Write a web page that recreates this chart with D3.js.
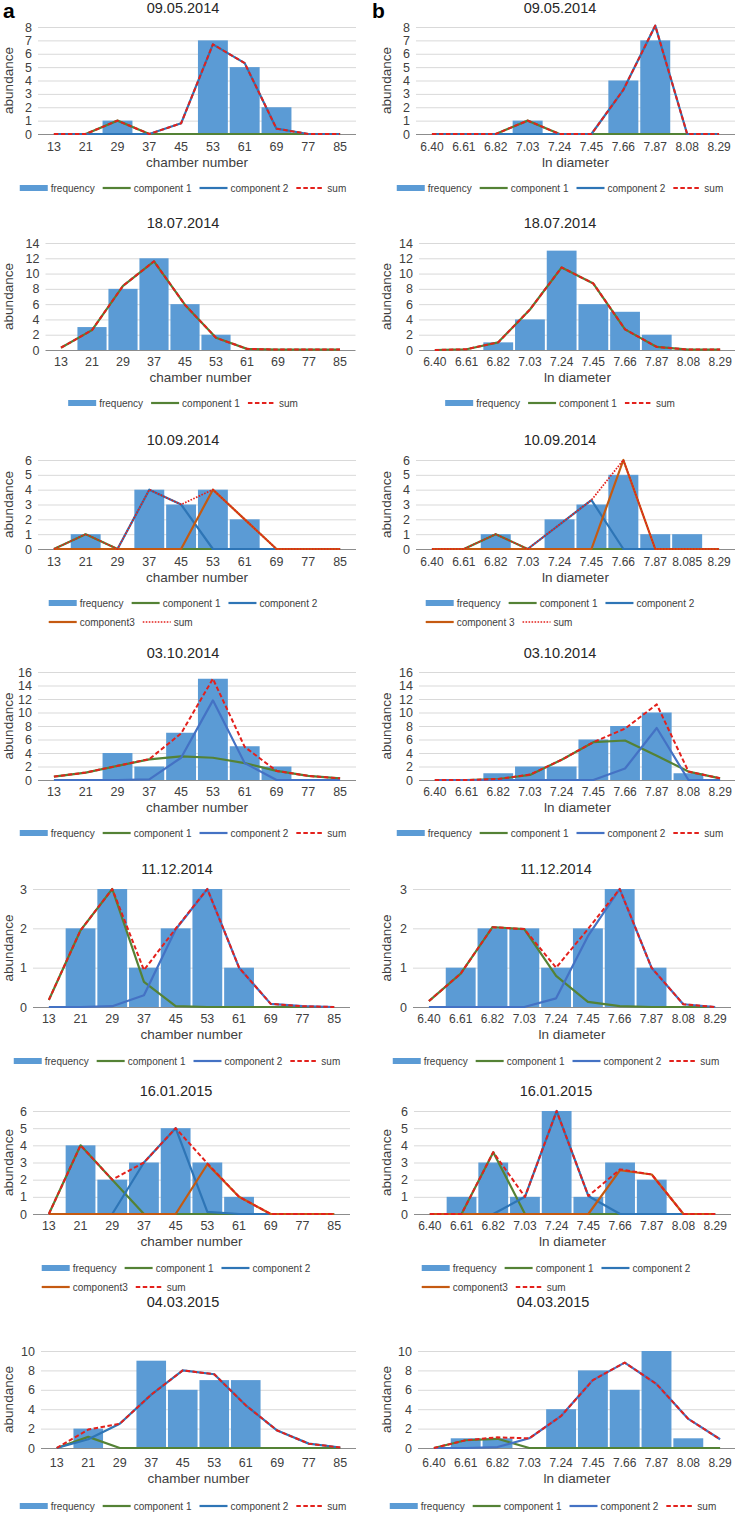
<!DOCTYPE html>
<html><head><meta charset="utf-8">
<script src="https://cdn.jsdelivr.net/npm/d3@7"></script>
<style>body{margin:0;background:#fff} svg{display:block} text{font-family:"Liberation Sans",Arial,sans-serif}</style>
</head><body><svg id="c" width="735" height="1518"></svg>
<script>
// ---------- categories ----------
const chamberCats = ["13","21","29","37","45","53","61","69","77","85"];
const diamCats = ["6.40","6.61","6.82","7.03","7.24","7.45","7.66","7.87","8.08","8.29"];
const diamCats3 = ["6.40","6.61","6.82","7.03","7.24","7.45","7.66","7.87","8.085","8.29"];
const titles = ["09.05.2014","18.07.2014","10.09.2014","03.10.2014","11.12.2014","16.01.2015","04.03.2015"];
const yMaxes = [8,14,6,16,3,6,10];
const ySteps = [1,2,1,2,1,1,2];

// ---------- 09.05.2014 ----------
const a1Freq = [0,0,1,0,0,7,5,2,0,0];
const a1C1   = [0,0,1,0,0,0,0,0,0,0];
const a1C2   = [0,0,0,0,0.8,6.7,5.3,0.4,0,0];
const a1Sum  = [0,0,1,0,0.8,6.7,5.3,0.4,0,0];
const b1Freq = [0,0,0,1,0,0,4,7,0,0];
const b1C1   = [0,0,0,1,0,0,0,0,0,0];
const b1C2   = [0,0,0,0,0,0,3.3,8.1,0,0];
const b1Sum  = [0,0,0,1,0,0,3.3,8.1,0,0];
// ---------- 18.07.2014 ----------
const a2Freq = [0,3,8,12,6,2,0,0,0,0];
const a2C1   = [0.3,2.6,8.4,11.6,5.9,1.6,0.15,0.05,0.05,0.05];
const a2Sum  = [0.3,2.6,8.4,11.6,5.9,1.6,0.15,0.05,0.05,0.05];
const b2Freq = [0,0,1,4,13,6,5,2,0,0];
const b2C1   = [0,0.1,1.0,5.3,10.8,8.7,2.7,0.4,0.05,0.05];
const b2Sum  = [0,0.1,1.0,5.3,10.8,8.7,2.7,0.4,0.05,0.05];
// ---------- 10.09.2014 ----------
const a3Freq = [0,1,0,4,3,4,2,0,0,0];
const a3C1   = [0,1,0,0,0,0,0,0,0,0];
const a3C2   = [0,0,0,4,3,0,0,0,0,0];
const a3C3   = [0,0,0,0,0,4,2,0,0,0];
const a3Sum  = [0,1,0,4,3,4,2,0,0,0];
const b3Freq = [0,0,1,0,2,3,5,1,1,0];
const b3C1   = [0,0,1,0,0,0,0,0,0,0];
const b3C2   = [0,0,0,0,1.65,3.3,0,0,0,0];
const b3C3   = [0,0,0,0,0,0,6,0,0,0];
const b3Sum  = [0,0,1,0,1.65,3.3,6,0,0,0];
// ---------- 03.10.2014 ----------
const a4Freq = [0,0,4,2,7,15,5,2,0,0];
const a4C1   = [0.5,1.1,2.1,3.05,3.5,3.3,2.5,1.35,0.6,0.25];
const a4C2   = [0,0,0,0.1,3.3,11.8,2.5,0,0,0];
const a4Sum  = [0.5,1.1,2.1,3.1,6.9,15.0,4.9,1.35,0.6,0.25];
const b4Freq = [0,0,1,2,2,6,8,10,1,0];
const b4C1   = [0,0,0.15,0.75,3.0,5.6,5.85,3.6,1.25,0.25];
const b4C2   = [0,0,0,0,0,0,1.7,7.7,0,0];
const b4Sum  = [0,0,0.15,0.8,3.0,5.6,7.6,11.2,1.25,0.25];
// ---------- 11.12.2014 ----------
const a5Freq = [0,2,3,1,2,3,1,0,0,0];
const a5C1   = [0.18,1.95,3.0,0.64,0.02,0,0,0,0,0];
const a5C2   = [0,0,0.02,0.3,1.97,3.0,1.0,0.08,0.02,0];
const a5Sum  = [0.18,1.95,3.0,0.94,1.99,3.0,1.0,0.08,0.02,0];
const b5Freq = [0,1,2,2,1,2,3,1,0,0];
const b5C1   = [0.15,0.85,2.03,1.98,0.79,0.13,0.02,0,0,0];
const b5C2   = [0,0,0,0,0.22,1.8,3.0,1.0,0.07,0];
const b5Sum  = [0.15,0.85,2.03,1.98,1.0,1.98,3.0,1.0,0.07,0];
// ---------- 16.01.2015 ----------
const a6Freq = [0,4,2,3,5,3,1,0,0,0];
const a6C1   = [0,4,2,0,0,0,0,0,0,0];
const a6C2   = [0,0,0,3,5,0.12,0,0,0,0];
const a6C3   = [0,0,0,0,0,2.9,1,0,0,0];
const a6Sum  = [0,4,2,3,5,2.95,1,0,0,0];
const b6Freq = [0,1,3,1,6,1,3,2,0,0];
const b6C1   = [0,0,3.6,0,0,0,0,0,0,0];
const b6C2   = [0,0,0,1,6,1.05,0,0,0,0];
const b6C3   = [0,0,0,0,0,0,2.55,2.3,0,0];
const b6Sum  = [0,0,3.6,1,6,1.05,2.6,2.3,0,0];
// ---------- 04.03.2015 ----------
const a7Freq = [0,2,0,9,6,7,7,0,0,0];
const a7C1   = [0,1.15,0,0,0,0,0,0,0,0];
const a7C2   = [0,0.9,2.5,5.5,8.0,7.6,4.4,1.8,0.45,0.05];
const a7Sum  = [0,1.9,2.5,5.5,8.0,7.6,4.4,1.8,0.45,0.05];
const b7Freq = [0,1,1,0,4,8,6,10,1,0];
const b7C1   = [0,0.8,0.95,0,0,0,0,0,0,0];
const b7C2   = [0,0,0.1,1.0,3.3,7.0,8.8,6.6,3.0,0.9];
const b7Sum  = [0,0.8,1.1,1.0,3.3,7.0,8.8,6.6,3.0,0.9];

// ---------- styles ----------
const BAR = "#5b9bd5", GREEN = "#548235", BLUE = "#2e75b6", BLUE2 = "#4472c4", ORANGE = "#c55a11", RED = "#e3211c";
const TXT = "#404040";

const rowGeom = [
  {title:8,   top:27,   bottom:134,  tick:147,  xt:162,  leg:188},
  {title:223, top:243,  bottom:350,  tick:362,  xt:377,  leg:403},
  {title:440, top:460,  bottom:549,  tick:562,  xt:577,  leg:603},
  {title:653, top:672,  bottom:780,  tick:792,  xt:807,  leg:833},
  {title:869, top:889,  bottom:1007, tick:1019, xt:1034, leg:1061},
  {title:1091,top:1111, bottom:1214, tick:1226, xt:1241, leg:1268},
  {title:1302,top:1351, bottom:1448, tick:1463, xt:1478, leg:1506}
];
const leftX  = [[38,356],[45.5,355.5],[38,356],[38,356],[33,350],[33,350],[41,356]];
const rightX = [[416,735],[419,736],[416,735],[419,736],[413,731],[414,731],[418,736]];
const titleCx = [[183,560],[183,560],[183,560],[183,560],[177,556],[176,556],[183,553]];

function S(name, values, color, kind){ return {name, values, color, kind}; }
const F = "frequency";
const panels = [
  {row:0,col:0,cats:chamberCats,freq:a1Freq,series:[S("component 1",a1C1,GREEN,"solid"),S("component 2",a1C2,BLUE,"solid"),S("sum",a1Sum,RED,"dash")],legend:[[0,1,2,3]]},
  {row:0,col:1,cats:diamCats,freq:b1Freq,series:[S("component 1",b1C1,GREEN,"solid"),S("component 2",b1C2,BLUE,"solid"),S("sum",b1Sum,RED,"dash")],legend:[[0,1,2,3]]},
  {row:1,col:0,cats:chamberCats,freq:a2Freq,series:[S("component 1",a2C1,GREEN,"solid"),S("sum",a2Sum,RED,"dash")],legend:[[0,1,2]]},
  {row:1,col:1,cats:diamCats,freq:b2Freq,series:[S("component 1",b2C1,GREEN,"solid"),S("sum",b2Sum,RED,"dash")],legend:[[0,1,2]]},
  {row:2,col:0,cats:chamberCats,freq:a3Freq,series:[S("component 1",a3C1,GREEN,"solid"),S("component 2",a3C2,BLUE,"solid"),S("component3",a3C3,ORANGE,"solid"),S("sum",a3Sum,RED,"dot")],legend:[[0,1,2],[3,4]]},
  {row:2,col:1,cats:diamCats3,freq:b3Freq,series:[S("component 1",b3C1,GREEN,"solid"),S("component 2",b3C2,BLUE,"solid"),S("component 3",b3C3,ORANGE,"solid"),S("sum",b3Sum,RED,"dot")],legend:[[0,1,2],[3,4]]},
  {row:3,col:0,cats:chamberCats,freq:a4Freq,series:[S("component 1",a4C1,GREEN,"solid"),S("component 2",a4C2,BLUE2,"solid"),S("sum",a4Sum,RED,"dash")],legend:[[0,1,2,3]]},
  {row:3,col:1,cats:diamCats,freq:b4Freq,series:[S("component 1",b4C1,GREEN,"solid"),S("component 2",b4C2,BLUE2,"solid"),S("sum",b4Sum,RED,"dash")],legend:[[0,1,2,3]]},
  {row:4,col:0,cats:chamberCats,freq:a5Freq,series:[S("component 1",a5C1,GREEN,"solid"),S("component 2",a5C2,BLUE2,"solid"),S("sum",a5Sum,RED,"dash")],legend:[[0,1,2,3]]},
  {row:4,col:1,cats:diamCats,freq:b5Freq,series:[S("component 1",b5C1,GREEN,"solid"),S("component 2",b5C2,BLUE2,"solid"),S("sum",b5Sum,RED,"dash")],legend:[[0,1,2,3]]},
  {row:5,col:0,cats:chamberCats,freq:a6Freq,series:[S("component 1",a6C1,GREEN,"solid"),S("component 2",a6C2,BLUE,"solid"),S("component3",a6C3,ORANGE,"solid"),S("sum",a6Sum,RED,"dash")],legend:[[0,1,2],[3,4]]},
  {row:5,col:1,cats:diamCats,freq:b6Freq,series:[S("component 1",b6C1,GREEN,"solid"),S("component 2",b6C2,BLUE,"solid"),S("component3",b6C3,ORANGE,"solid"),S("sum",b6Sum,RED,"dash")],legend:[[0,1,2],[3,4]]},
  {row:6,col:0,cats:chamberCats,freq:a7Freq,series:[S("component 1",a7C1,GREEN,"solid"),S("component 2",a7C2,BLUE,"solid"),S("sum",a7Sum,RED,"dash")],legend:[[0,1,2,3]]},
  {row:6,col:1,cats:diamCats,freq:b7Freq,series:[S("component 1",b7C1,GREEN,"solid"),S("component 2",b7C2,BLUE2,"solid"),S("sum",b7Sum,RED,"dash")],legend:[[0,1,2,3]]}
];

const svg = d3.select("#c");
svg.append("rect").attr("width",735).attr("height",1518).attr("fill","#fff");

function styleLine(sel, s){
  sel.attr("stroke", s.color).attr("fill","none");
  if (s.kind === "solid") sel.attr("stroke-width", 2.2);
  else if (s.kind === "dash") sel.attr("stroke-width", 2).attr("stroke-dasharray","4.5,2.5");
  else sel.attr("stroke-width", 1.7).attr("stroke-dasharray","1.6,1.4");
}

function drawPanel(p){
  const rg = rowGeom[p.row];
  const [L, R] = (p.col === 0 ? leftX : rightX)[p.row];
  const g = svg.append("g");
  const yMax = yMaxes[p.row], yStep = ySteps[p.row];
  const x = d3.scaleBand().domain(p.cats).range([L, R]).padding(0);
  const y = d3.scaleLinear().domain([0, yMax]).range([rg.bottom, rg.top]);
  const ticks = d3.range(0, yMax + 1e-9, yStep);

  // grid + y labels
  const ya = g.append("g").attr("transform", `translate(${L},0)`)
    .call(d3.axisLeft(y).tickValues(ticks).tickSize(-(R - L)).tickPadding(6).tickFormat(d3.format("d")));
  ya.select(".domain").remove();
  ya.selectAll(".tick line").attr("stroke", d => d === 0 ? "none" : "#d9d9d9").attr("stroke-width", 1);
  ya.selectAll(".tick text").attr("fill", TXT).attr("font-size", 12.5).attr("font-family", '"Liberation Sans",Arial,sans-serif');

  // bars
  const bw = x.bandwidth() * 0.94;
  g.selectAll("rect.bar").data(p.freq.map((v, i) => ({c: p.cats[i], v}))).join("rect")
    .attr("class", "bar")
    .attr("x", d => x(d.c) + (x.bandwidth() - bw) / 2)
    .attr("width", bw)
    .attr("y", d => y(d.v))
    .attr("height", d => y(0) - y(d.v))
    .attr("fill", BAR);

  // x axis
  const xa = g.append("g").attr("transform", `translate(0,${y(0)})`)
    .call(d3.axisBottom(x).tickSize(0).tickPadding(0));
  xa.select(".domain").attr("stroke", "#8c8c8c").attr("stroke-width", 1).attr("d", `M${L},0.5H${R}`);
  xa.selectAll(".tick text").attr("fill", TXT).attr("font-size", p.col === 0 ? 12.5 : 12)
    .attr("font-family", '"Liberation Sans",Arial,sans-serif')
    .attr("dy", null).attr("y", rg.tick - y(0)).attr("dominant-baseline", "central");

  // lines
  const line = d3.line().x((d, i) => x(p.cats[i]) + x.bandwidth() / 2).y(d => y(d));
  p.series.forEach(s => {
    g.append("path").attr("d", line(s.values)).call(styleLine, s).attr("stroke-linejoin", "round");
  });

  // titles
  const cx = titleCx[p.row][p.col];
  g.append("text").attr("x", cx).attr("y", rg.title).attr("text-anchor", "middle").attr("dominant-baseline", "central")
    .attr("font-size", 14.5).attr("fill", "#262626").text(titles[p.row]);
  g.append("text").attr("x", (L + R) / 2).attr("y", rg.xt).attr("text-anchor", "middle").attr("dominant-baseline", "central")
    .attr("font-size", 13.5).attr("fill", TXT).text(p.col === 0 ? "chamber number" : "ln diameter");
  const yx = p.col === 0 ? 8 : 386;
  g.append("text").attr("transform", `translate(${yx},${(rg.top + rg.bottom) / 2}) rotate(-90)`)
    .attr("text-anchor", "middle").attr("dominant-baseline", "central")
    .attr("font-size", 13.5).attr("fill", TXT).text("abundance");

  // legend
  const items = [{name: F, kind: "bar", color: BAR}].concat(p.series);
  const MW = 28, GAP = 3, SP = 8, FS = 10;
  const meas = g.append("text").attr("font-size", FS);
  const widths = items.map(it => { meas.text(it.name); return meas.node().getComputedTextLength(); });
  meas.remove();
  const rowW = p.legend.map(r => r.reduce((a, k) => a + MW + GAP + widths[k], 0) + SP * (r.length - 1));
  const maxW = d3.max(rowW);
  const x0 = cx - maxW / 2;
  p.legend.forEach((r, ri) => {
    let xx = x0;
    const yy = rg.leg + ri * 19;
    r.forEach(k => {
      const it = items[k];
      if (it.kind === "bar") {
        g.append("rect").attr("x", xx).attr("y", yy - 3).attr("width", MW).attr("height", 6).attr("fill", BAR);
      } else {
        g.append("line").attr("x1", xx).attr("x2", xx + MW).attr("y1", yy).attr("y2", yy).call(styleLine, it);
      }
      g.append("text").attr("x", xx + MW + GAP).attr("y", yy).attr("dominant-baseline", "central")
        .attr("font-size", FS).attr("fill", TXT).text(it.name);
      xx += MW + GAP + widths[k] + SP;
    });
  });
}

panels.forEach(drawPanel);

svg.append("text").attr("x", 3).attr("y", 18).attr("font-size", 21).attr("font-weight", "bold").attr("fill", "#000").text("a");
svg.append("text").attr("x", 372).attr("y", 18).attr("font-size", 21).attr("font-weight", "bold").attr("fill", "#000").text("b");
</script></body></html>
